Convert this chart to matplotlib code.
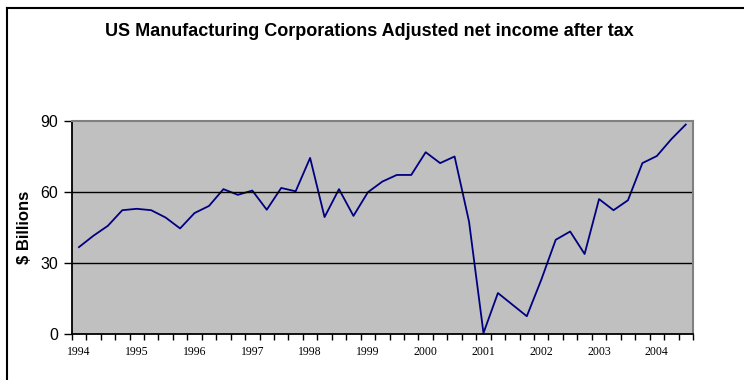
import numpy as np
import matplotlib
matplotlib.use('Agg')
import matplotlib.pyplot as plt
from matplotlib.lines import Line2D

# quarterly values, 1994 Q1 .. 2004 Q3 ($ billions)
income = [36.7, 41.5, 45.7, 52.3, 52.9, 52.3, 49.2, 44.6, 51.1, 54.1,
          61.2, 58.8, 60.6, 52.5, 61.7, 60.3, 74.4, 49.4, 61.2, 49.9,
          59.9, 64.4, 67.2, 67.2, 76.8, 72.2, 75.0, 47.5, 0.4, 17.3,
          12.4, 7.5, 22.9, 39.8, 43.3, 33.8, 57.0, 52.3, 56.5, 72.2,
          75.2, 82.3, 88.5]
years = ['1994', '1995', '1996', '1997', '1998', '1999',
         '2000', '2001', '2002', '2003', '2004']
y_ticks = [0, 30, 60, 90]

sans = 'Liberation Sans'
serif = 'Liberation Serif'

fig = plt.figure(figsize=(7.44, 3.8), dpi=100)
ax = fig.add_axes([0.0964, 0.1211, 0.835, 0.5605])
ax.set_facecolor('#C0C0C0')

x = np.arange(len(income))
ax.plot(x, income, color='#000080', linewidth=1.3)

ax.set_xlim(-0.5, len(income) - 0.5)
ax.set_ylim(0, 90)

# y axis
ax.set_yticks(y_ticks)
ax.set_yticklabels([str(v) for v in y_ticks], fontsize=11.5, fontfamily=sans)
ax.tick_params(axis='y', direction='out', length=6, width=1, pad=4)
for v in y_ticks[1:-1]:
    ax.axhline(v, color='black', linewidth=1)

# x axis: labels at first quarter, ticks between quarters
ax.set_xticks(np.arange(0, len(income), 4))
ax.set_xticklabels(years, fontsize=8.5, fontfamily=serif)
ax.set_xticks(np.arange(-0.5, len(income)), minor=True)
ax.tick_params(axis='x', which='major', length=0, pad=9)
ax.tick_params(axis='x', which='minor', direction='out', length=4, width=1)

ax.spines['left'].set_linewidth(1.3)
ax.spines['bottom'].set_linewidth(1.3)
for s in ['top', 'right']:
    ax.spines[s].set_color('#808080')
    ax.spines[s].set_linewidth(1.5)

ax.set_ylabel('$ Billions', fontsize=12, fontweight='bold', fontfamily=sans, labelpad=6)

fig.text(0.497, 0.917, 'US Manufacturing Corporations Adjusted net income after tax',
         ha='center', va='center', fontsize=13, fontweight='bold', fontfamily=sans)

# outer chart border
bx = 7 / 744
by = 1 - 8 / 380
fig.add_artist(Line2D([bx, bx], [0, by], color='black', linewidth=1.5))
fig.add_artist(Line2D([bx, 1], [by, by], color='black', linewidth=1.5))

fig.savefig('out.png', dpi=100)
